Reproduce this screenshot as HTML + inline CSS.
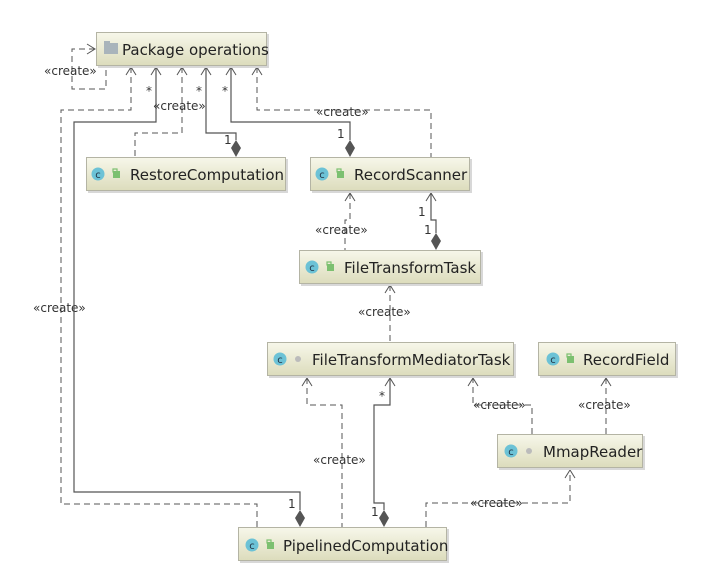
<!DOCTYPE html>
<html><head><meta charset="utf-8"><style>
html,body{margin:0;padding:0;background:#fff;}
svg{display:block;font-family:"DejaVu Sans","Liberation Sans",sans-serif;}
.b{fill:url(#g);stroke:#b4b4a4;stroke-width:1;}
.s{fill:#d8d8d8;}
.t{font-size:15px;fill:#222;}
.l{font-size:12px;fill:#333;}
.d{fill:none;stroke:#555;stroke-width:1;stroke-dasharray:6,4;}
.n{fill:none;stroke:#555;stroke-width:1.2;}
.a{fill:none;stroke:#555;stroke-width:1;}
.dm{fill:#555;}
</style></head><body>
<svg width="717" height="588" viewBox="0 0 717 588" xmlns="http://www.w3.org/2000/svg">
<defs>
<linearGradient id="g" x1="0" y1="0" x2="0" y2="1">
<stop offset="0" stop-color="#f7f7ea"/><stop offset="1" stop-color="#dcdcbc"/>
</linearGradient>
<g id="ci"><circle r="6.5" fill="#6cc2d6"/><text x="0" y="4" font-size="10" text-anchor="middle" fill="#234">c</text></g>
<g id="lk"><rect x="-3" y="-4" width="7" height="7" fill="#7cc070"/><rect x="-3" y="-6" width="4" height="3" fill="none" stroke="#7cc070" stroke-width="1.2"/></g>
<g id="dt"><circle r="3" fill="#bbb"/></g>
</defs>

<!-- connectors -->
<!-- self loop -->
<path class="d" d="M95,49 H72 V89 H106 V67"/>
<path class="a" d="M87,44 L95,49 L87,54"/>
<text class="l" x="44" y="75">«create»</text>

<!-- to PipelinedComputation dashed -->
<path class="d" d="M131,67 V110 H61 V504 H257 V527"/>
<path class="a" d="M126,75 L131,67 L136,75"/>
<text class="l" x="33" y="312">«create»</text>
<!-- solid Pipelined -->
<path class="n" d="M156,67 V122 H74 V492 H300 V510"/>
<path class="a" d="M151,75 L156,67 L161,75"/>
<text class="l" x="146" y="95">*</text>
<text class="l" x="288" y="508">1</text>
<path class="dm" d="M300,510 L305,518 L300,527 L295,518 Z"/>

<!-- RestoreComputation dashed -->
<path class="d" d="M182,67 V133 H135 V157"/>
<path class="a" d="M177,75 L182,67 L187,75"/>
<text class="l" x="153" y="110">«create»</text>
<!-- RestoreComputation solid -->
<path class="n" d="M206,67 V133 H236 V140"/>
<path class="a" d="M201,75 L206,67 L211,75"/>
<text class="l" x="196" y="95">*</text>
<text class="l" x="224" y="144">1</text>
<path class="dm" d="M236,140 L241,148 L236,157 L231,148 Z"/>

<!-- RecordScanner solid -->
<path class="n" d="M231,67 V122 H350 V140"/>
<path class="a" d="M226,75 L231,67 L236,75"/>
<text class="l" x="222" y="95">*</text>
<text class="l" x="337" y="138">1</text>
<path class="dm" d="M350,140 L355,148 L350,157 L345,148 Z"/>
<!-- RecordScanner dashed -->
<path class="d" d="M257,67 V110 H431 V157"/>
<path class="a" d="M252,75 L257,67 L262,75"/>
<text class="l" x="316" y="116">«create»</text>

<!-- RecordScanner <- FileTransformTask -->
<path class="d" d="M350,193 V220 H345 V250"/>
<path class="a" d="M345,201 L350,193 L355,201"/>
<text class="l" x="315" y="234">«create»</text>
<path class="n" d="M431,193 V220 H436 V233"/>
<path class="a" d="M426,201 L431,193 L436,201"/>
<text class="l" x="418" y="216">1</text>
<text class="l" x="424" y="234">1</text>
<path class="dm" d="M436,233 L441,241 L436,250 L431,241 Z"/>

<!-- FileTransformTask <- Mediator -->
<path class="d" d="M390,285 V342"/>
<path class="a" d="M385,293 L390,285 L395,293"/>
<text class="l" x="358" y="316">«create»</text>

<!-- Mediator <- Pipelined dashed -->
<path class="d" d="M307,378 V405 H342 V527"/>
<path class="a" d="M302,386 L307,378 L312,386"/>
<text class="l" x="313" y="464">«create»</text>
<!-- Mediator solid -->
<path class="n" d="M390,378 V405 H374 V503 H384 V510"/>
<path class="a" d="M385,386 L390,378 L395,386"/>
<text class="l" x="379" y="400">*</text>
<text class="l" x="371" y="516">1</text>
<path class="dm" d="M384,510 L389,518 L384,527 L379,518 Z"/>

<!-- Mediator <- MmapReader -->
<path class="d" d="M532,434 V405 H473 V378"/>
<path class="a" d="M468,386 L473,378 L478,386"/>
<text class="l" x="473" y="409">«create»</text>
<!-- RecordField <- MmapReader -->
<path class="d" d="M606,434 V378"/>
<path class="a" d="M601,386 L606,378 L611,386"/>
<text class="l" x="578" y="409">«create»</text>
<!-- MmapReader <- Pipelined -->
<path class="d" d="M426,527 V503 H570 V470"/>
<path class="a" d="M565,478 L570,470 L575,478"/>
<text class="l" x="470" y="507">«create»</text>

<!-- boxes -->
<rect class="s" x="98" y="34" width="171" height="34"/>
<rect class="b" x="96.5" y="32.5" width="170" height="33"/>
<rect x="104" y="43" width="14" height="11" fill="#a9b4bb"/><rect x="104" y="41" width="6" height="3" fill="#a9b4bb"/>
<text class="t" x="122" y="55">Package operations</text>

<rect class="s" x="88" y="159" width="200" height="34"/>
<rect class="b" x="86.5" y="157.5" width="199" height="33"/>
<use href="#ci" x="98" y="174"/><use href="#lk" x="116" y="175"/>
<text class="t" x="130" y="180">RestoreComputation</text>

<rect class="s" x="312" y="159" width="160" height="34"/>
<rect class="b" x="310.5" y="157.5" width="159" height="33"/>
<use href="#ci" x="322" y="174"/><use href="#lk" x="340" y="175"/>
<text class="t" x="354" y="180">RecordScanner</text>

<rect class="s" x="301" y="252" width="182" height="34"/>
<rect class="b" x="299.5" y="250.5" width="181" height="33"/>
<use href="#ci" x="312" y="267"/><use href="#lk" x="330" y="268"/>
<text class="t" x="344" y="273">FileTransformTask</text>

<rect class="s" x="269" y="344" width="247" height="34"/>
<rect class="b" x="267.5" y="342.5" width="246" height="33"/>
<use href="#ci" x="280" y="359"/><use href="#dt" x="298" y="359"/>
<text class="t" x="312" y="365">FileTransformMediatorTask</text>

<rect class="s" x="540" y="344" width="138" height="34"/>
<rect class="b" x="538.5" y="342.5" width="137" height="33"/>
<use href="#ci" x="553" y="359"/><use href="#lk" x="570" y="360"/>
<text class="t" x="583" y="365">RecordField</text>

<rect class="s" x="499" y="436" width="146" height="34"/>
<rect class="b" x="497.5" y="434.5" width="145" height="33"/>
<use href="#ci" x="511" y="451"/><use href="#dt" x="529" y="451"/>
<text class="t" x="543" y="457">MmapReader</text>

<rect class="s" x="240" y="529" width="209" height="34"/>
<rect class="b" x="238.5" y="527.5" width="208" height="33"/>
<use href="#ci" x="252" y="545"/><use href="#lk" x="270" y="546"/>
<text class="t" x="283" y="551">PipelinedComputation</text>
</svg>
</body></html>
